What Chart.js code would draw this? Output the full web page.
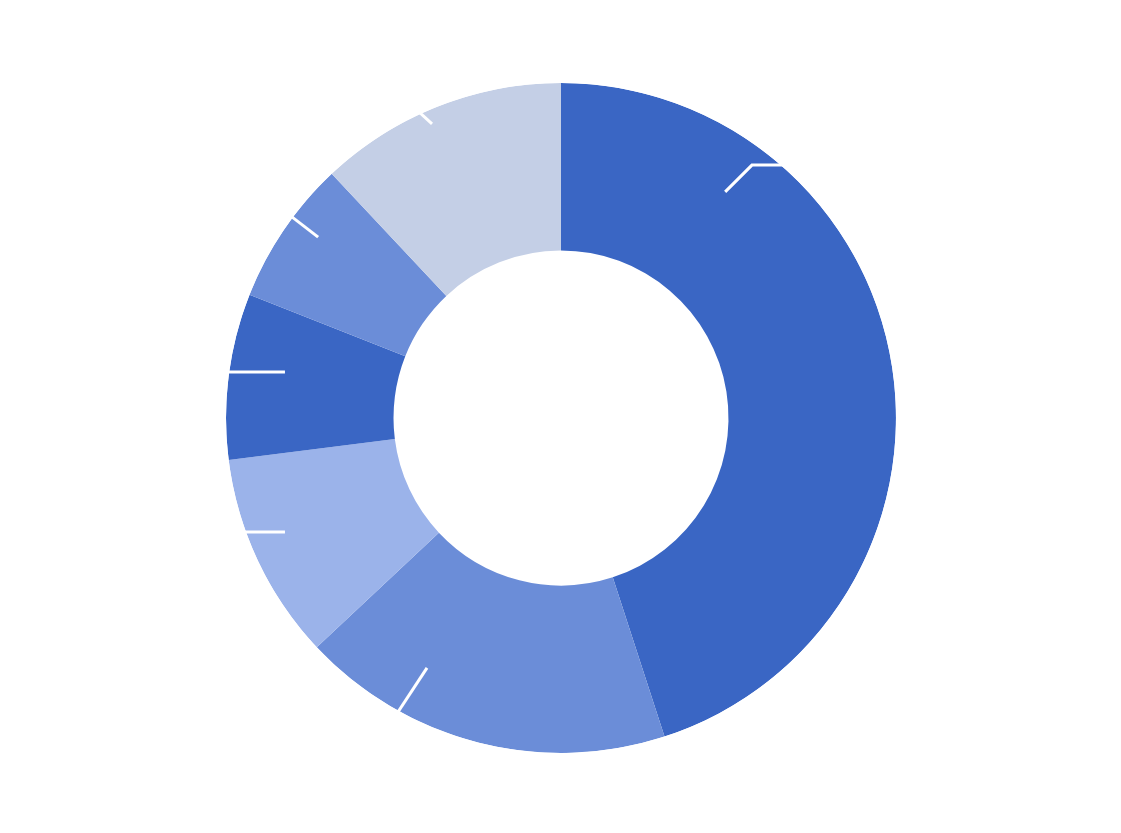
<!DOCTYPE html>
<html>
<head>
<meta charset="utf-8">
<script src="https://cdn.jsdelivr.net/npm/chart.js@4.4.1/dist/chart.umd.min.js"></script>
<style>
  html, body { margin: 0; padding: 0; background: #fff; }
  #wrap { width: 1121px; height: 833px; }
</style>
</head>
<body>
<div id="wrap"><canvas id="donut"></canvas></div>
<script>
// доли сегментов, по часовой стрелке от 12 часов
const labels = ['A', 'B', 'C', 'D', 'E', 'F'];
const values = [45, 18, 10, 8, 7, 12];
const colors = ['#3a66c4', '#6b8dd8', '#9bb3ea', '#3a66c4', '#6b8dd8', '#c4cfe6'];

// белые выноски (в долях внешнего радиуса, от центра)
const leaderPaths = [
  [[0.49, -0.675], [0.57, -0.755], [0.95, -0.755]],
  [[-0.40, 0.746], [-0.60, 1.05]],
  [[-0.824, 0.34], [-1.05, 0.34]],
  [[-0.824, -0.137], [-1.05, -0.137]],
  [[-0.725, -0.54], [-0.90, -0.675]],
  [[-0.385, -0.878], [-0.47, -0.956]],
];

const leaderPlugin = {
  id: 'leaders',
  afterDatasetsDraw(chart) {
    const arcs = chart.getDatasetMeta(0).data;
    const ctx = chart.ctx;
    ctx.save();
    ctx.strokeStyle = '#ffffff';
    ctx.lineWidth = 3;
    arcs.forEach((arc, i) => {
      const path = leaderPaths[i];
      if (!path) return;
      const R = arc.outerRadius;
      ctx.beginPath();
      path.forEach(([fx, fy], k) => {
        const x = arc.x + fx * R, y = arc.y + fy * R;
        if (k === 0) ctx.moveTo(x, y); else ctx.lineTo(x, y);
      });
      ctx.stroke();
    });
    ctx.restore();
    // всё, что вышло за кольцо, закрашиваем белым фоном
    const a = arcs[0];
    ctx.save();
    ctx.fillStyle = '#ffffff';
    ctx.beginPath();
    ctx.rect(0, 0, chart.width, chart.height);
    ctx.arc(a.x, a.y, a.outerRadius, 0, Math.PI * 2, true);
    ctx.fill('evenodd');
    ctx.restore();
  },
};

new Chart(document.getElementById('donut'), {
  type: 'doughnut',
  data: {
    labels,
    datasets: [{ data: values, backgroundColor: colors, borderWidth: 0 }],
  },
  options: {
    responsive: true, maintainAspectRatio: false, animation: false,
    cutout: '50%',
    layout: { padding: { top: 83, bottom: 80, left: 1 } },
    plugins: { legend: { display: false }, tooltip: { enabled: false } },
  },
  plugins: [leaderPlugin],
});
</script>
</body>
</html>
